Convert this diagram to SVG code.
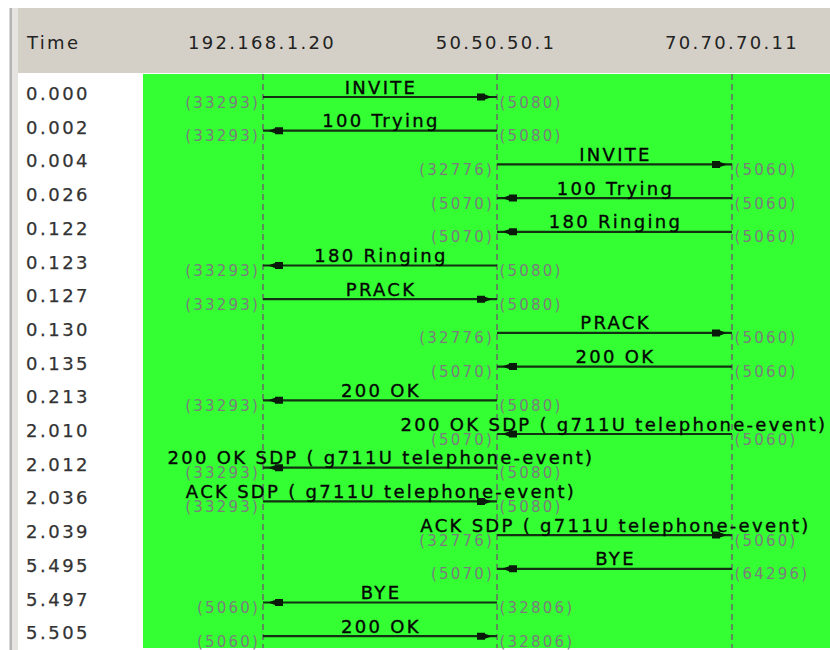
<svg xmlns="http://www.w3.org/2000/svg" width="830" height="650" viewBox="0 0 830 650">
<defs>
<style>
.bg-white{fill:#ffffff}
.hdrbg{fill:#d4d0c8}
.green{fill:#33ff33}
.life{stroke:#6a6a6a;stroke-width:1.5;stroke-dasharray:6 4;fill:none}
.msg{stroke:#123012;stroke-width:2.2;fill:none}
.head{fill:#0a1a0a}
.lbl{font-family:"DejaVu Sans",Verdana,sans-serif;font-size:18px;letter-spacing:2.3px;fill:#050505;stroke:#050505;stroke-width:0.35px;text-anchor:middle}
.port{font-family:"DejaVu Sans",Verdana,sans-serif;font-size:15px;letter-spacing:2.2px;fill:#7c7c7c}
.pl{text-anchor:end}
.time{font-family:"DejaVu Sans",Verdana,sans-serif;font-size:18px;letter-spacing:2.5px;fill:#333333;stroke:#333333;stroke-width:0.25px}
.hdr{font-family:"DejaVu Sans",Tahoma,sans-serif;font-size:18px;letter-spacing:2.3px;fill:#222222}
</style>
<path id="ah" d="M-20,-3.5 L-12,-3.5 L-12,-2.5 L-5,0 L-12,2.5 L-12,3.5 L-20,3.5 Z"/>
</defs>

<!-- frame -->
<rect x="0" y="0" width="830" height="650" class="bg-white"/>
<rect x="12" y="8" width="818" height="65" class="hdrbg"/>
<rect x="9.5" y="8" width="2.5" height="642" fill="#b4b4b4"/>
<rect x="12" y="8" width="6" height="642" fill="#e6e4e0"/>
<rect x="18" y="73" width="125" height="577" class="bg-white"/>
<rect x="143" y="74" width="687" height="574" class="green"/>

<!-- header -->
<g id="header">
<text class="hdr" x="27" y="49" letter-spacing="1">Time</text>
</g>

<!-- lifelines (nodes) -->
<g id="node-192-168-1-20">
<text class="hdr" x="262" y="49" text-anchor="middle">192.168.1.20</text>
<line class="life" x1="263" y1="74" x2="263" y2="648"/>
</g>
<g id="node-50-50-50-1">
<text class="hdr" x="496" y="49" text-anchor="middle">50.50.50.1</text>
<line class="life" x1="497" y1="74" x2="497" y2="648"/>
</g>
<g id="node-70-70-70-11">
<text class="hdr" x="732" y="49" text-anchor="middle">70.70.70.11</text>
<line class="life" x1="732" y1="74" x2="732" y2="648"/>
</g>

<!-- time column -->
<g id="times">
<text class="time" x="26" y="100">0.000</text>
<text class="time" x="26" y="133.7">0.002</text>
<text class="time" x="26" y="167.4">0.004</text>
<text class="time" x="26" y="201.1">0.026</text>
<text class="time" x="26" y="234.8">0.122</text>
<text class="time" x="26" y="268.5">0.123</text>
<text class="time" x="26" y="302.2">0.127</text>
<text class="time" x="26" y="335.9">0.130</text>
<text class="time" x="26" y="369.6">0.135</text>
<text class="time" x="26" y="403.3">0.213</text>
<text class="time" x="26" y="437">2.010</text>
<text class="time" x="26" y="470.7">2.012</text>
<text class="time" x="26" y="504.4">2.036</text>
<text class="time" x="26" y="538.1">2.039</text>
<text class="time" x="26" y="571.8">5.495</text>
<text class="time" x="26" y="605.5">5.497</text>
<text class="time" x="26" y="639.2">5.505</text>
</g>

<!-- connectors -->
<g id="connectors">
<g id="msg-0">
<line class="msg" x1="263" y1="97" x2="497" y2="97"/>
<use href="#ah" class="head" transform="translate(497,97)"/>
<text class="lbl" x="381" y="93.5">INVITE</text>
<text class="port pl" x="260" y="107.5">(33293)</text>
<text class="port" x="499.5" y="107.5">(5080)</text>
</g>
<g id="msg-1">
<line class="msg" x1="263" y1="130.7" x2="497" y2="130.7"/>
<use href="#ah" class="head" transform="translate(263,130.7) scale(-1,1)"/>
<text class="lbl" x="381" y="127.2">100 Trying</text>
<text class="port pl" x="260" y="141.2">(33293)</text>
<text class="port" x="499.5" y="141.2">(5080)</text>
</g>
<g id="msg-2">
<line class="msg" x1="497" y1="164.4" x2="732" y2="164.4"/>
<use href="#ah" class="head" transform="translate(732,164.4)"/>
<text class="lbl" x="615.5" y="160.9">INVITE</text>
<text class="port pl" x="494" y="174.9">(32776)</text>
<text class="port" x="734.5" y="174.9">(5060)</text>
</g>
<g id="msg-3">
<line class="msg" x1="497" y1="198.1" x2="732" y2="198.1"/>
<use href="#ah" class="head" transform="translate(497,198.1) scale(-1,1)"/>
<text class="lbl" x="615.5" y="194.6">100 Trying</text>
<text class="port pl" x="494" y="208.6">(5070)</text>
<text class="port" x="734.5" y="208.6">(5060)</text>
</g>
<g id="msg-4">
<line class="msg" x1="497" y1="231.8" x2="732" y2="231.8"/>
<use href="#ah" class="head" transform="translate(497,231.8) scale(-1,1)"/>
<text class="lbl" x="615.5" y="228.3">180 Ringing</text>
<text class="port pl" x="494" y="242.3">(5070)</text>
<text class="port" x="734.5" y="242.3">(5060)</text>
</g>
<g id="msg-5">
<line class="msg" x1="263" y1="265.5" x2="497" y2="265.5"/>
<use href="#ah" class="head" transform="translate(263,265.5) scale(-1,1)"/>
<text class="lbl" x="381" y="262">180 Ringing</text>
<text class="port pl" x="260" y="276">(33293)</text>
<text class="port" x="499.5" y="276">(5080)</text>
</g>
<g id="msg-6">
<line class="msg" x1="263" y1="299.2" x2="497" y2="299.2"/>
<use href="#ah" class="head" transform="translate(497,299.2)"/>
<text class="lbl" x="381" y="295.7">PRACK</text>
<text class="port pl" x="260" y="309.7">(33293)</text>
<text class="port" x="499.5" y="309.7">(5080)</text>
</g>
<g id="msg-7">
<line class="msg" x1="497" y1="332.9" x2="732" y2="332.9"/>
<use href="#ah" class="head" transform="translate(732,332.9)"/>
<text class="lbl" x="615.5" y="329.4">PRACK</text>
<text class="port pl" x="494" y="343.4">(32776)</text>
<text class="port" x="734.5" y="343.4">(5060)</text>
</g>
<g id="msg-8">
<line class="msg" x1="497" y1="366.6" x2="732" y2="366.6"/>
<use href="#ah" class="head" transform="translate(497,366.6) scale(-1,1)"/>
<text class="lbl" x="615.5" y="363.1">200 OK</text>
<text class="port pl" x="494" y="377.1">(5070)</text>
<text class="port" x="734.5" y="377.1">(5060)</text>
</g>
<g id="msg-9">
<line class="msg" x1="263" y1="400.3" x2="497" y2="400.3"/>
<use href="#ah" class="head" transform="translate(263,400.3) scale(-1,1)"/>
<text class="lbl" x="381" y="396.8">200 OK</text>
<text class="port pl" x="260" y="410.8">(33293)</text>
<text class="port" x="499.5" y="410.8">(5080)</text>
</g>
<g id="msg-10">
<line class="msg" x1="497" y1="434" x2="732" y2="434"/>
<use href="#ah" class="head" transform="translate(497,434) scale(-1,1)"/>
<text class="lbl" x="614" y="430.5">200 OK SDP ( g711U telephone-event)</text>
<text class="port pl" x="494" y="444.5">(5070)</text>
<text class="port" x="734.5" y="444.5">(5060)</text>
</g>
<g id="msg-11">
<line class="msg" x1="263" y1="467.7" x2="497" y2="467.7"/>
<use href="#ah" class="head" transform="translate(263,467.7) scale(-1,1)"/>
<text class="lbl" x="381" y="464.2">200 OK SDP ( g711U telephone-event)</text>
<text class="port pl" x="260" y="478.2">(33293)</text>
<text class="port" x="499.5" y="478.2">(5080)</text>
</g>
<g id="msg-12">
<line class="msg" x1="263" y1="501.4" x2="497" y2="501.4"/>
<use href="#ah" class="head" transform="translate(497,501.4)"/>
<text class="lbl" x="381" y="497.9">ACK SDP ( g711U telephone-event)</text>
<text class="port pl" x="260" y="511.9">(33293)</text>
<text class="port" x="499.5" y="511.9">(5080)</text>
</g>
<g id="msg-13">
<line class="msg" x1="497" y1="535.1" x2="732" y2="535.1"/>
<use href="#ah" class="head" transform="translate(732,535.1)"/>
<text class="lbl" x="615.5" y="531.6">ACK SDP ( g711U telephone-event)</text>
<text class="port pl" x="494" y="545.6">(32776)</text>
<text class="port" x="734.5" y="545.6">(5060)</text>
</g>
<g id="msg-14">
<line class="msg" x1="497" y1="568.8" x2="732" y2="568.8"/>
<use href="#ah" class="head" transform="translate(497,568.8) scale(-1,1)"/>
<text class="lbl" x="615.5" y="565.3">BYE</text>
<text class="port pl" x="494" y="579.3">(5070)</text>
<text class="port" x="734.5" y="579.3">(64296)</text>
</g>
<g id="msg-15">
<line class="msg" x1="263" y1="602.5" x2="497" y2="602.5"/>
<use href="#ah" class="head" transform="translate(263,602.5) scale(-1,1)"/>
<text class="lbl" x="381" y="599">BYE</text>
<text class="port pl" x="260" y="613">(5060)</text>
<text class="port" x="499.5" y="613">(32806)</text>
</g>
<g id="msg-16">
<line class="msg" x1="263" y1="636.2" x2="497" y2="636.2"/>
<use href="#ah" class="head" transform="translate(497,636.2)"/>
<text class="lbl" x="381" y="632.7">200 OK</text>
<text class="port pl" x="260" y="646.7">(5060)</text>
<text class="port" x="499.5" y="646.7">(32806)</text>
</g>
</g>
</svg>
